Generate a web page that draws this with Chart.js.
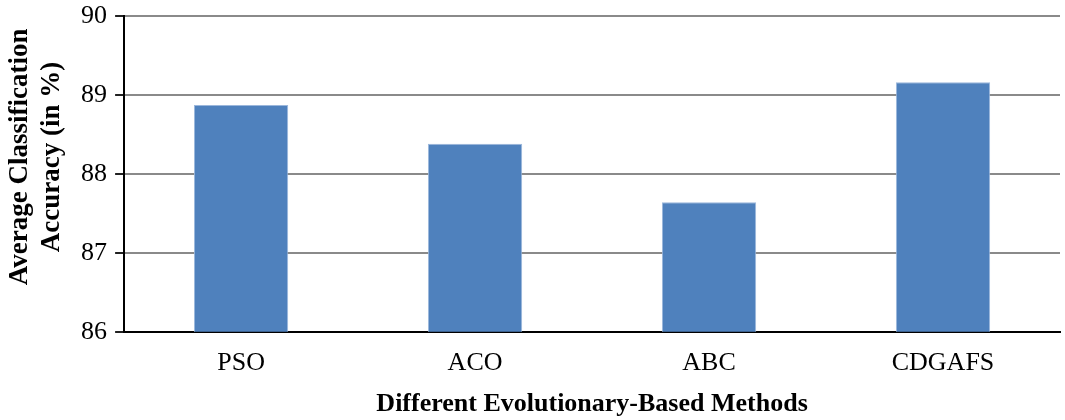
<!DOCTYPE html>
<html>
<head>
<meta charset="utf-8">
<script src="https://cdn.jsdelivr.net/npm/chart.js@4"></script>
<style>
  html, body { margin: 0; padding: 0; background: #fff; }
  #wrap { width: 1065px; height: 420px; }
</style>
</head>
<body>
<div id="wrap"><canvas id="chart" width="1065" height="420"></canvas></div>
<script>
const categories = ['PSO', 'ACO', 'ABC', 'CDGAFS'];
const accuracy = [88.87, 88.38, 87.64, 89.16];
const yTicks = [86, 87, 88, 89, 90];

const serif = "'Liberation Serif', 'Times New Roman', serif";
// leading spaces nudge the rotated title up a little, like the original
const pad = '     ';

new Chart(document.getElementById('chart'), {
  type: 'bar',
  data: {
    labels: categories,
    datasets: [{
      label: 'Average Classification Accuracy',
      data: accuracy,
      backgroundColor: '#4F81BD',
      borderColor: '#9BB7DC',
      borderWidth: 1,
      barPercentage: 0.403,
      categoryPercentage: 1
    }]
  },
  options: {
    responsive: false,
    animation: false,
    layout: { padding: { top: 0, right: 5, left: 5, bottom: 0 } },
    plugins: { legend: { display: false }, tooltip: { enabled: false } },
    scales: {
      y: {
        min: yTicks[0],
        max: yTicks[yTicks.length - 1],
        afterBuildTicks: axis => { axis.ticks = yTicks.map(v => ({ value: v })); },
        ticks: { color: '#000', font: { family: serif, size: 26, lineHeight: 0.6 }, padding: 8 },
        grid: { color: '#8a8a8a', lineWidth: 2, tickLength: 9, tickColor: '#222' },
        border: { color: '#000', width: 2 },
        title: {
          display: true,
          text: [pad + 'Average Classification', pad + 'Accuracy (in %)'],
          color: '#000',
          font: { family: serif, size: 27, weight: 'bold', lineHeight: 1.15 },
          padding: { top: 0, bottom: 6 }
        }
      },
      x: {
        ticks: { color: '#000', font: { family: serif, size: 26, lineHeight: 1 }, padding: 10 },
        grid: { display: false },
        border: { color: '#000', width: 2 },
        title: {
          display: true,
          text: 'Different Evolutionary-Based Methods',
          color: '#000',
          font: { family: serif, size: 26, weight: 'bold' },
          padding: { top: 3, bottom: 0 }
        }
      }
    }
  }
});
</script>
</body>
</html>
